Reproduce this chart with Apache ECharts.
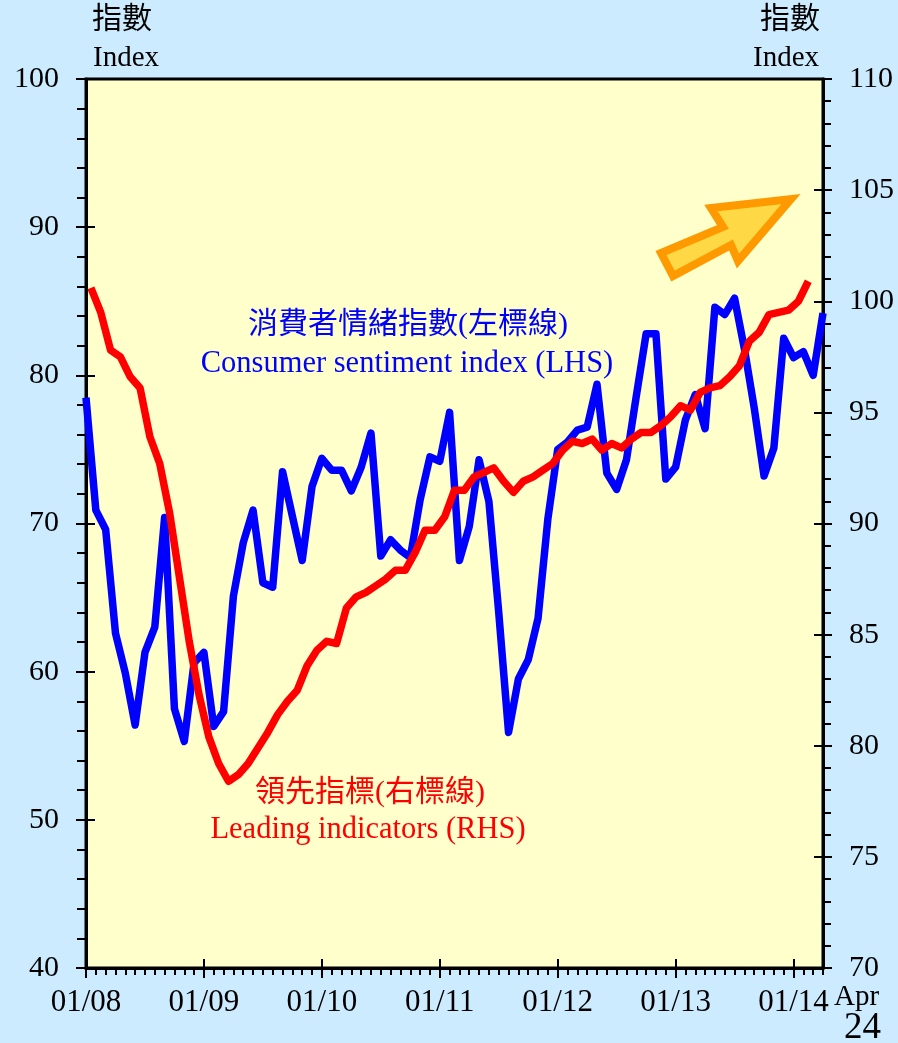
<!DOCTYPE html>
<html>
<head>
<meta charset="utf-8">
<script src="https://cdn.jsdelivr.net/npm/echarts@6/dist/echarts.min.js"></script>
<style>
  html, body { margin: 0; padding: 0; background: #CCEBFF; }
  #chart { width: 898px; height: 1043px; }
</style>
</head>
<body>
<div id="chart"></div>
<script>
// 月份 (2008年1月 - 2014年4月)
const months = [];
for (let y = 2008; y <= 2014; y++) {
    for (let m = 1; m <= 12; m++) {
        if (y === 2014 && m > 4) break;
        months.push(y + '-' + (m < 10 ? '0' + m : m));
    }
}
// 領先指標按月份居中繪製, 只到 2014年3月
const leadMonths = months.slice(0, 75);

const xTickLabels = ['01/08', '01/09', '01/10', '01/11', '01/12', '01/13', '01/14'];

// 消費者情緒指數 (左標線)
const sentiment = [
    78.5, 70.9, 69.6, 62.6, 59.9, 56.4, 61.3, 63.0, 70.4, 57.5, 55.3, 60.6,
    61.3, 56.3, 57.3, 65.1, 68.7, 70.9, 66.0, 65.7, 73.5, 70.5, 67.5, 72.5,
    74.4, 73.6, 73.6, 72.2, 73.8, 76.1, 67.8, 68.9, 68.2, 67.7, 71.6, 74.5,
    74.2, 77.5, 67.5, 69.8, 74.3, 71.5, 64.0, 55.9, 59.5, 60.8, 63.6, 70.3,
    75.0, 75.5, 76.3, 76.5, 79.4, 73.4, 72.3, 74.3, 78.6, 82.8, 82.8, 73.0,
    73.8, 77.0, 78.7, 76.4, 84.6, 84.1, 85.2, 81.8, 77.8, 73.2, 75.1, 82.5,
    81.2, 81.6, 80.0, 84.2
];

// 領先指標 (右標線)
const leading = [
    100.6, 99.5, 97.8, 97.5, 96.6, 96.1, 93.9, 92.7, 90.5, 87.6, 84.7, 82.3,
    80.4, 79.2, 78.4, 78.7, 79.2, 79.9, 80.6, 81.4, 82.0, 82.5, 83.6, 84.3,
    84.7, 84.6, 86.2, 86.7, 86.9, 87.2, 87.5, 87.9, 87.9, 88.7, 89.7, 89.7,
    90.3, 91.5, 91.5, 92.1, 92.3, 92.5, 91.9, 91.4, 91.9, 92.1, 92.4, 92.7,
    93.3, 93.7, 93.6, 93.8, 93.3, 93.6, 93.4, 93.8, 94.1, 94.1, 94.4, 94.8,
    95.3, 95.1, 95.9, 96.1, 96.2, 96.6, 97.1, 98.2, 98.6, 99.4, 99.5, 99.6,
    100.0, 100.9
];

const serif = "'Liberation Serif', 'Times New Roman', 'Noto Sans CJK TC', serif";
const isJan = (i) => i % 12 === 0;

const chart = echarts.init(document.getElementById('chart'));

const option = {
    backgroundColor: '#CCEBFF',
    animation: false,
    grid: {
        left: 86, right: 75, top: 79, bottom: 75,
        show: true, backgroundColor: '#FFFFCC',
        borderColor: '#000', borderWidth: 3
    },
    xAxis: [
        {
            type: 'category', data: months, boundaryGap: false, position: 'bottom',
            axisLine: { lineStyle: { color: '#000', width: 3 } },
            axisTick: { interval: 0, length: 7, lineStyle: { color: '#000', width: 2 } },
            axisLabel: {
                interval: (i) => isJan(i),
                formatter: (v, i) => xTickLabels[i / 12],
                color: '#000', fontFamily: serif, fontSize: 31, margin: 19
            },
            splitLine: { show: false }
        },
        {
            // 一月主刻度 (向內)
            type: 'category', data: months, boundaryGap: false, position: 'bottom',
            axisLine: { show: false },
            axisTick: { inside: true, interval: (i) => isJan(i), length: 9, lineStyle: { color: '#000', width: 2 } },
            axisLabel: { show: false }, splitLine: { show: false }
        },
        {
            // 一月主刻度 (向外)
            type: 'category', data: months, boundaryGap: false, position: 'bottom',
            axisLine: { show: false },
            axisTick: { interval: (i) => isJan(i), length: 10, lineStyle: { color: '#000', width: 2 } },
            axisLabel: { show: false }, splitLine: { show: false }
        },
        {
            type: 'category', data: leadMonths, boundaryGap: true, show: false
        }
    ],
    yAxis: [
        {
            type: 'value', position: 'left', min: 40, max: 100, interval: 10,
            axisLine: { show: true, lineStyle: { color: '#000', width: 3 } },
            axisTick: { show: true, length: 10, lineStyle: { color: '#000', width: 2 } },
            minorTick: { show: true, splitNumber: 5, length: 9, lineStyle: { color: '#000', width: 2 } },
            axisLabel: { color: '#000', fontFamily: serif, fontSize: 30, margin: 27 },
            splitLine: { show: false }
        },
        {
            type: 'value', position: 'right', min: 70, max: 110, interval: 5,
            axisLine: { show: true, lineStyle: { color: '#000', width: 3 } },
            axisTick: { show: true, length: 9, lineStyle: { color: '#000', width: 2 } },
            minorTick: { show: true, splitNumber: 5, length: 8, lineStyle: { color: '#000', width: 2 } },
            axisLabel: { color: '#000', fontFamily: serif, fontSize: 30, margin: 26 },
            splitLine: { show: false }
        },
        {
            type: 'value', position: 'left', min: 40, max: 100, interval: 10,
            axisLine: { show: false },
            axisTick: { show: true, inside: true, length: 9, lineStyle: { color: '#000', width: 2 } },
            axisLabel: { show: false }, splitLine: { show: false }
        },
        {
            type: 'value', position: 'right', min: 70, max: 110, interval: 5,
            axisLine: { show: false },
            axisTick: { show: true, inside: true, length: 9, lineStyle: { color: '#000', width: 2 } },
            axisLabel: { show: false }, splitLine: { show: false }
        }
    ],
    series: [
        {
            name: '消費者情緒指數', type: 'line', data: sentiment,
            xAxisIndex: 0, yAxisIndex: 0,
            showSymbol: false, symbol: 'none',
            lineStyle: { color: '#0000FF', width: 7.5, join: 'round' },
            z: 3
        },
        {
            name: '領先指標', type: 'line', data: leading,
            xAxisIndex: 3, yAxisIndex: 1,
            showSymbol: false, symbol: 'none',
            lineStyle: { color: '#FF0000', width: 7.5, join: 'round' },
            z: 4
        }
    ],
    graphic: [
        { type: 'text', left: 92, top: 5, style: { text: '指數', font: '30px ' + serif, fill: '#000' } },
        { type: 'text', left: 93, top: 44, style: { text: 'Index', font: '29px ' + serif, fill: '#000' } },
        { type: 'text', right: 78, top: 5, style: { text: '指數', font: '30px ' + serif, fill: '#000' } },
        { type: 'text', right: 79, top: 44, style: { text: 'Index', font: '29px ' + serif, fill: '#000' } },
        {
            type: 'text', x: 408, y: 325,
            style: { text: '消費者情緒指數(左標線)', font: '30px ' + serif, fill: '#0000FF', align: 'center', verticalAlign: 'middle' }
        },
        {
            type: 'text', x: 407, y: 364,
            style: { text: 'Consumer sentiment index (LHS)', font: '30.5px ' + serif, fill: '#0000FF', align: 'center', verticalAlign: 'middle' }
        },
        {
            type: 'text', x: 370, y: 793,
            style: { text: '領先指標(右標線)', font: '30px ' + serif, fill: '#FF0000', align: 'center', verticalAlign: 'middle' }
        },
        {
            type: 'text', x: 368, y: 830,
            style: { text: 'Leading indicators (RHS)', font: '30.5px ' + serif, fill: '#FF0000', align: 'center', verticalAlign: 'middle' }
        },
        { type: 'text', x: 834, y: 983, style: { text: 'Apr', font: '29px ' + serif, fill: '#000' } },
        { type: 'text', x: 844, y: 1010, style: { text: '24', font: '37px ' + serif, fill: '#000' } },
        {
            type: 'polygon', z: 10,
            shape: { points: [[673, 276], [661, 253], [723, 227], [711, 208], [791, 199], [738, 261], [731, 245]] },
            style: { fill: '#FFD945', stroke: '#FF9900', lineWidth: 8, lineJoin: 'miter' }
        }
    ]
};

chart.setOption(option);
window.addEventListener('resize', () => chart.resize());
</script>
</body>
</html>
